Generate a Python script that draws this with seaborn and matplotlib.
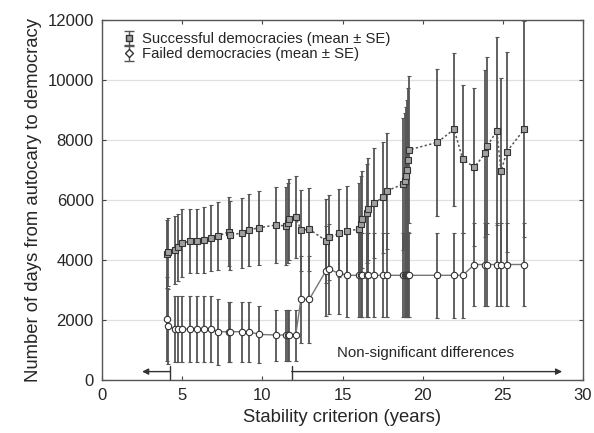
import numpy as np
import pandas as pd
import matplotlib
matplotlib.use("Agg")
import matplotlib.pyplot as plt
import seaborn as sns

# Data
years = [4.04, 4.14, 4.55, 4.72, 5.01, 5.52, 5.91, 6.38, 6.82, 7.22,
         7.94, 7.99, 8.73, 9.15, 9.81, 10.85, 11.48, 11.58, 11.65, 12.08,
         12.41, 12.93, 13.97, 14.18, 14.78, 15.30, 16.05, 16.16, 16.24, 16.51,
         16.61, 16.97, 17.51, 17.80, 18.80, 18.88, 18.96, 19.05, 19.09, 19.13,
         20.92, 21.96, 22.50, 23.23, 23.89, 24.04, 24.62, 24.89, 25.25, 26.33]
success_mean = [4200, 4277, 4333, 4423, 4557, 4633, 4633, 4667, 4743, 4800,
                4943, 4833, 4900, 5000, 5077, 5167, 5133, 5243, 5357, 5423,
                5000, 5023, 4643, 4757, 4890, 4967, 5033, 5200, 5357, 5557,
                5700, 5890, 6090, 6310, 6533, 6650, 6800, 7000, 7333, 7667,
                7923, 8357, 7357, 7090, 7557, 7810, 8300, 6967, 7610, 8357]
success_se = [1130, 1130, 1120, 1120, 1130, 1060, 1080, 1090, 1100, 1130,
              1150, 1150, 1170, 1200, 1230, 1280, 1300, 1330, 1350, 1370,
              1350, 1380, 1400, 1420, 1470, 1500, 1550, 1600, 1620, 1650,
              1700, 1830, 1850, 1930, 2200, 2250, 2300, 2350, 2400, 2450,
              2450, 2550, 2470, 2630, 2780, 2950, 3140, 3090, 3330, 3600]
failed_mean = [2033, 1800, 1700, 1700, 1700, 1700, 1700, 1700, 1700, 1610,
               1610, 1610, 1610, 1610, 1520, 1500, 1500, 1500, 1500, 1500,
               2690, 2690, 3643, 3690, 3557, 3490, 3490, 3490, 3490, 3490,
               3490, 3490, 3490, 3490, 3490, 3490, 3490, 3490, 3490, 3490,
               3490, 3490, 3490, 3850, 3850, 3850, 3850, 3850, 3850, 3850]
failed_se = [1400, 1250, 1100, 1100, 1100, 1100, 1100, 1100, 1100, 1100,
             1000, 1000, 1000, 1000, 950, 850, 850, 850, 850, 850,
             1450, 1450, 1500, 1500, 1350, 1400, 1400, 1400, 1400, 1400,
             1400, 1400, 1400, 1400, 1400, 1400, 1400, 1400, 1400, 1400,
             1420, 1420, 1420, 1380, 1380, 1380, 1380, 1380, 1380, 1380]

sig_range = [2.5, 4.24]
nonsig_range = [11.83, 28.7]

df = pd.DataFrame({"years": years,
                   "success": success_mean, "success_se": success_se,
                   "failed": failed_mean, "failed_se": failed_se})

sns.set_style("ticks")
plt.rcParams["font.family"] = ["Liberation Sans", "DejaVu Sans"]

fig = plt.figure(figsize=(5.94, 4.33), dpi=100)
ax = fig.add_axes([0.1717, 0.1224, 0.8098, 0.8314])

ax.yaxis.grid(True, color="#e0e0e0", lw=0.9)
ax.set_axisbelow(True)

# error bars
ax.errorbar(df["years"], df["failed"], yerr=df["failed_se"], fmt="none",
            ecolor="#555555", elinewidth=1.3, capsize=1.5, capthick=0.8, zorder=2)
ax.errorbar(df["years"], df["success"], yerr=df["success_se"], fmt="none",
            ecolor="#555555", elinewidth=1.3, capsize=1.5, capthick=0.8, zorder=2)

# lines with markers
sns.lineplot(data=df, x="years", y="failed", ax=ax, color="#777777", lw=1.0,
             marker="o", markersize=4.6, markerfacecolor="white",
             markeredgecolor="#333333", markeredgewidth=0.8, zorder=3)
sns.lineplot(data=df, x="years", y="success", ax=ax, color="#555555", lw=1.1,
             linestyle=(0, (1.5, 1.5)), marker="s", markersize=4.6,
             markerfacecolor="#a0a0a0", markeredgecolor="#333333",
             markeredgewidth=0.8, zorder=3)

# legend handles
h1 = ax.errorbar([np.nan], [np.nan], yerr=[1], fmt="s", color="#555555",
                 markerfacecolor="#a0a0a0", markeredgecolor="#333333",
                 markersize=4.3, capsize=3.5, elinewidth=1)
h2 = ax.errorbar([np.nan], [np.nan], yerr=[1], fmt="D", color="#555555",
                 markerfacecolor="white", markeredgecolor="#333333",
                 markersize=4.3, capsize=3.5, elinewidth=1)
ax.legend([h1, h2], ["Successful democracies (mean \u00b1 SE)",
                     "Failed democracies (mean \u00b1 SE)"],
          loc="upper left", bbox_to_anchor=(0.038, 0.966), frameon=False,
          fontsize=10.7, handlelength=1.2, handletextpad=0.25,
          labelspacing=0.08, borderaxespad=0, borderpad=0)

# significance arrows
arrow_y = 280
ax.annotate("", xy=(sig_range[0], arrow_y), xytext=(sig_range[1], arrow_y),
            arrowprops=dict(arrowstyle="-|>", color="#333333", lw=1.0,
                            mutation_scale=9, shrinkA=0, shrinkB=0))
ax.annotate("", xy=(nonsig_range[1], arrow_y), xytext=(nonsig_range[0], arrow_y),
            arrowprops=dict(arrowstyle="-|>", color="#333333", lw=1.0,
                            mutation_scale=9, shrinkA=0, shrinkB=0))
ax.plot([sig_range[1], sig_range[1]], [0, 480], color="#333333", lw=1.0)
ax.plot([nonsig_range[0], nonsig_range[0]], [0, 480], color="#333333", lw=1.0)
ax.text(20.15, 900, "Non-significant differences", ha="center", va="center",
        fontsize=10.8)

ax.set_xlim(0, 30)
ax.set_ylim(0, 12000)
ax.set_xticks([0, 5, 10, 15, 20, 25, 30])
ax.set_yticks(range(0, 12001, 2000))
ax.tick_params(direction="in", top=True, right=True, labelsize=12,
               length=3, color="#444444", pad=6)
for s in ax.spines.values():
    s.set_color("#555555")
    s.set_linewidth(1.0)
ax.set_xlabel("Stability criterion (years)", fontsize=13.3)
ax.set_ylabel("Number of days from autocary to democracy", fontsize=13.3)

fig.savefig("out.png", dpi=100)
